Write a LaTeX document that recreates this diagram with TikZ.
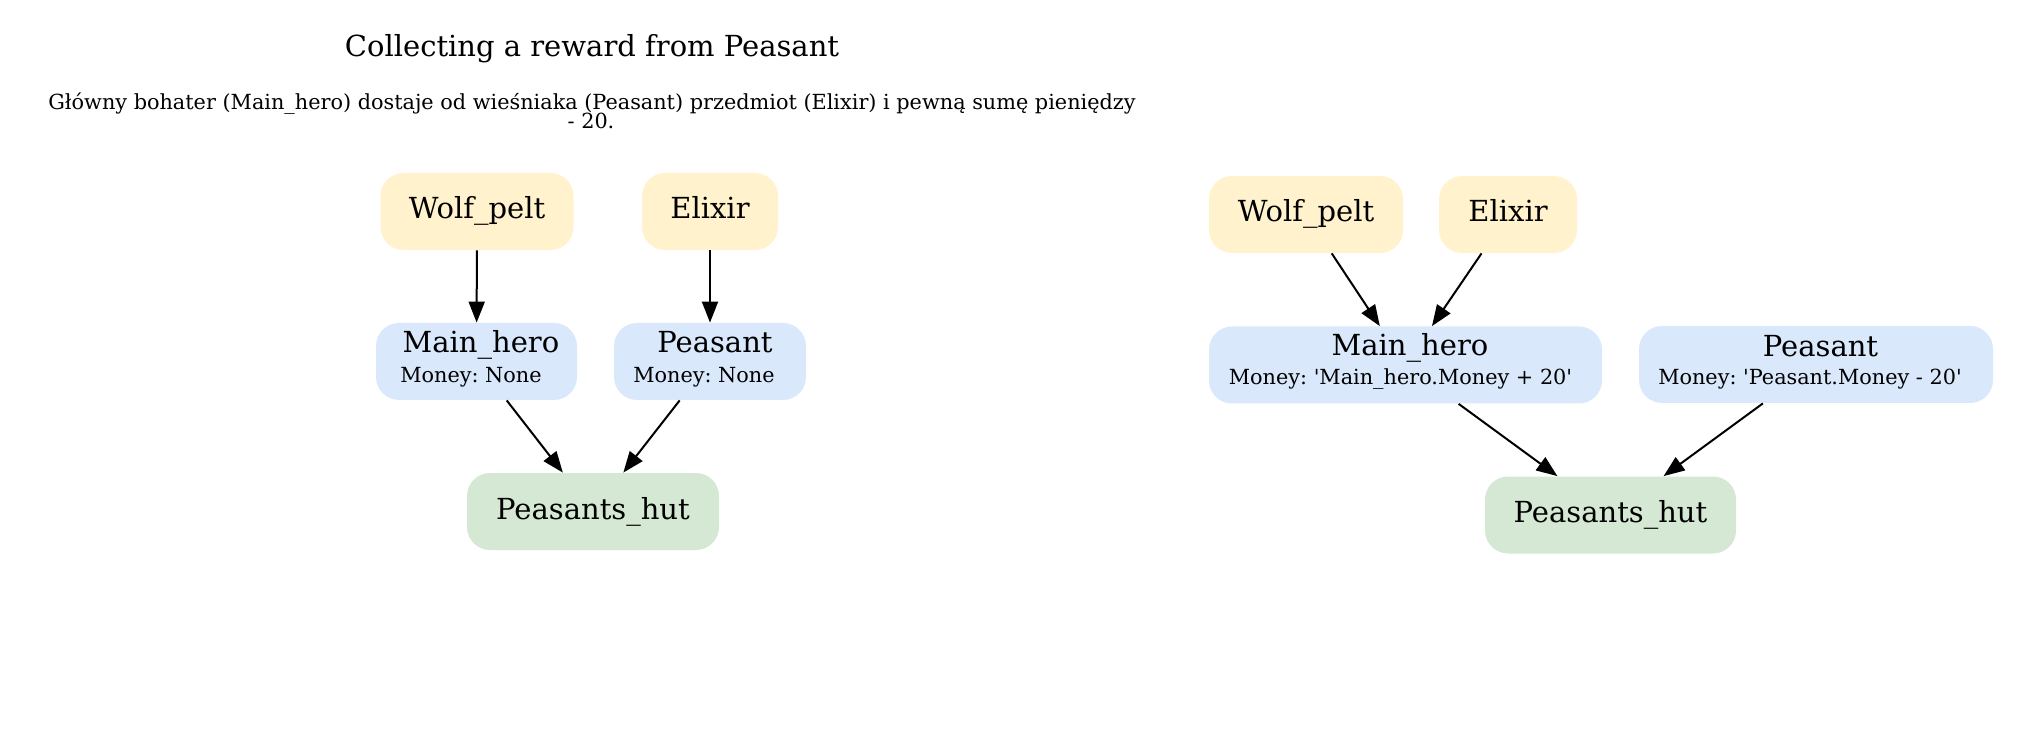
\documentclass[tikz,border=0pt]{standalone}
\usepackage{fontspec}
\setmainfont{DejaVu Serif}
\usetikzlibrary{arrows.meta}
\frenchspacing
\definecolor{yelc}{HTML}{FFF2CC}
\definecolor{bluec}{HTML}{DAE8FC}
\definecolor{greenc}{HTML}{D5E8D4}
\newcommand{\sq}{\textquotesingle}
\tikzset{
  box/.style={rounded corners=11.5pt, inner sep=0pt, minimum height=38.5pt,
    font=\fontsize{14.5pt}{17pt}\selectfont, text height=10pt, text depth=2.5pt},
  yelbox/.style={box, fill=yelc},
  bluebox/.style={box, fill=bluec},
  greenbox/.style={box, fill=greenc},
  big/.style={font=\fontsize{14.5pt}{17pt}\selectfont, inner sep=0pt, anchor=base},
  small/.style={font=\fontsize{10.4pt}{12pt}\selectfont, inner sep=0pt, anchor=base},
  conn/.style={draw=black, line width=1pt, -{Triangle[length=10.5pt,width=8pt]}}
}
\begin{document}
\begin{tikzpicture}[x=0.5pt,y=-0.5pt]
\useasboundingbox (0,0) rectangle (2021,731);
% titles
\node[big] (title) at (592,56.7) {Collecting a reward from Peasant};
\node[small] (sub1) at (592,110) {Główny bohater (Main\_hero) dostaje od wieśniaka (Peasant) przedmiot (Elixir) i pewną sumę pieniędzy};
\node[small] (sub2) at (591,129) {- 20.};
% left graph
\node[yelbox, minimum width=96.5pt] (wpL) at (477,211.5) {Wolf\_pelt};
\node[yelbox, minimum width=68pt] (elL) at (710,211.5) {Elixir};
\node[bluebox, minimum width=100.5pt] (mhL) at (476.5,361.5) {};
\node[big] (mhLt) at (481,353) {Main\_hero};
\node[small] (mhLm) at (471,383) {Money: None};
\node[bluebox, minimum width=96pt] (peL) at (710,361.5) {};
\node[big] (peLt) at (715,353) {Peasant};
\node[small] (peLm) at (704,383) {Money: None};
\node[greenbox, minimum width=126pt] (huL) at (593,511.5) {Peasants\_hut};
\draw[conn] (wpL) -- (mhL);
\draw[conn] (elL) -- (peL);
\draw[conn] (mhL) -- (huL);
\draw[conn] (peL) -- (huL);
% right graph
\node[yelbox, minimum width=97pt] (wpR) at (1306,214.5) {Wolf\_pelt};
\node[yelbox, minimum width=69pt] (elR) at (1508,214.5) {Elixir};
\node[bluebox, minimum width=196.5pt] (mhR) at (1405.5,365) {};
\node[big] (mhRt) at (1410,355.5) {Main\_hero};
\node[small] (mhRm) at (1400.5,385) {Money: \sq Main\_hero.Money + 20\sq};
\node[bluebox, minimum width=177pt] (peR) at (1816,364.5) {};
\node[big] (peRt) at (1820.5,357) {Peasant};
\node[small] (peRm) at (1810,385) {Money: \sq Peasant.Money - 20\sq};
\node[greenbox, minimum width=125.5pt] (huR) at (1610.5,515) {Peasants\_hut};
\draw[conn] (wpR) -- (mhR);
\draw[conn] (elR) -- (mhR);
\draw[conn] (mhR) -- (huR);
\draw[conn] (peR) -- (huR);
\end{tikzpicture}
\end{document}
